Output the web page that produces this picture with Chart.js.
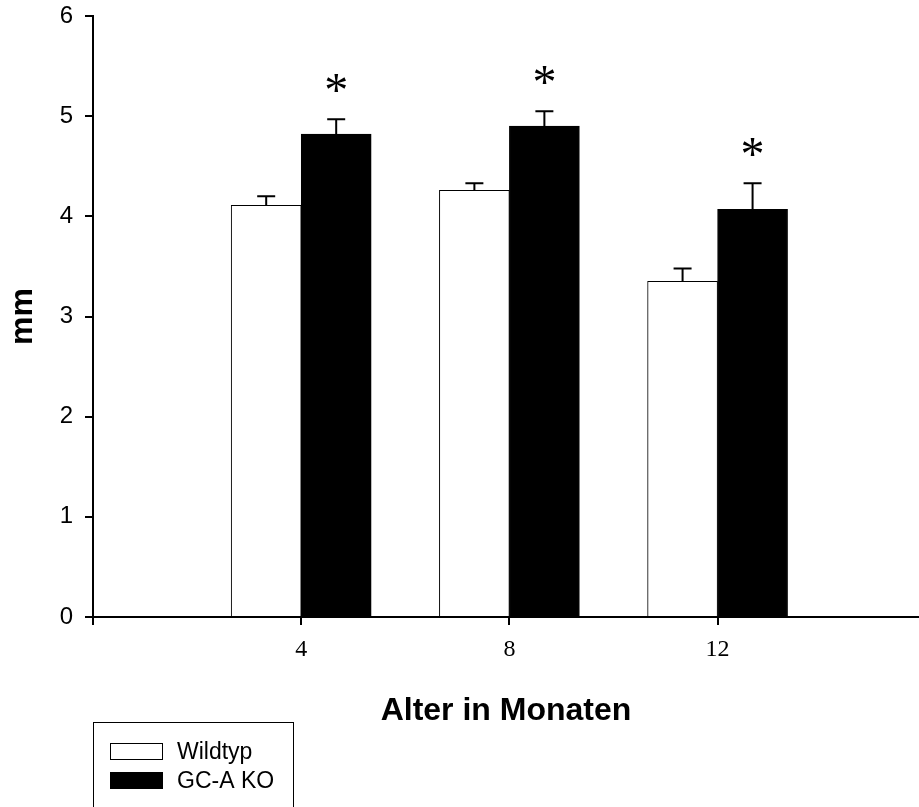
<!DOCTYPE html>
<html>
<head>
<meta charset="utf-8">
<script src="https://cdn.jsdelivr.net/npm/chart.js@4"></script>
<style>
  body { margin: 0; background: #fff; overflow: hidden; }
  #wrap { width: 919px; height: 807px; }
</style>
</head>
<body>
<div id="wrap"><canvas id="myChart" width="919" height="807"></canvas></div>
<script>
// Alter in Monaten
const monate = [4, 8, 12];
const wildtyp = [4.11, 4.26, 3.35];
const wildtypErr = [0.09, 0.07, 0.13];
const gcaKo = [4.82, 4.90, 4.07];
const gcaKoErr = [0.15, 0.15, 0.26];
const signifikant = [true, true, true];
const yTicks = [0, 1, 2, 3, 4, 5, 6];

// error bars (only upward), asterisks, axis titles and the legend box
const extras = {
  id: "extras",
  afterDatasetsDraw(chart) {
    const ctx = chart.ctx;
    const y = chart.scales.y;
    const errs = [wildtypErr, gcaKoErr];
    ctx.save();
    ctx.strokeStyle = "#000";
    ctx.lineWidth = 2;
    chart.data.datasets.forEach((ds, d) => {
      const meta = chart.getDatasetMeta(d);
      meta.data.forEach((bar, i) => {
        const top = y.getPixelForValue(ds.data[i].y + errs[d][i]);
        ctx.beginPath();
        ctx.moveTo(bar.x, bar.y);
        ctx.lineTo(bar.x, top);
        ctx.moveTo(bar.x - 9, top);
        ctx.lineTo(bar.x + 9, top);
        ctx.stroke();
        if (d == 1 && signifikant[i]) {
          ctx.fillStyle = "#000";
          ctx.font = "48px 'Liberation Serif'";
          ctx.textAlign = "center";
          ctx.textBaseline = "alphabetic";
          const m = ctx.measureText("*");
          // center the glyph 36px above the error cap
          const base = top - 36 + (m.actualBoundingBoxAscent - m.actualBoundingBoxDescent) / 2;
          ctx.fillText("*", bar.x, base);
        }
      });
    });
    ctx.restore();
  },
  afterDraw(chart) {
    const ctx = chart.ctx;
    const area = chart.chartArea;
    ctx.save();
    ctx.fillStyle = "#000";
    ctx.font = "bold 32px 'Liberation Sans'";
    ctx.textAlign = "center";
    ctx.textBaseline = "alphabetic";
    ctx.fillText("Alter in Monaten", (area.left + area.right) / 2, 720);
    ctx.translate(32, (area.top + area.bottom) / 2);
    ctx.rotate(-Math.PI / 2);
    ctx.fillText("mm", 0, 0);
    ctx.restore();

    // legend
    ctx.save();
    ctx.strokeStyle = "#000";
    ctx.lineWidth = 1;
    ctx.strokeRect(93.5, 722.5, 200, 120);
    chart.data.datasets.forEach((ds, d) => {
      const top = 743 + d * 29;
      ctx.fillStyle = ds.backgroundColor;
      ctx.fillRect(110, top, 53, 17);
      ctx.strokeRect(110.5, top + 0.5, 52, 16);
      ctx.fillStyle = "#000";
      ctx.font = "23px 'Liberation Sans'";
      ctx.textAlign = "left";
      ctx.textBaseline = "middle";
      ctx.fillText(ds.label, 177, top + 10);
    });
    ctx.restore();
  }
};

new Chart("myChart", {
  type: "bar",
  data: {
    datasets: [
      {
        label: "Wildtyp",
        data: monate.map((m, i) => ({ x: m, y: wildtyp[i] })),
        backgroundColor: "#fff",
        borderColor: "#000",
        borderWidth: 1,
        borderSkipped: "bottom",
        barThickness: 70,
      },
      {
        label: "GC-A KO",
        data: monate.map((m, i) => ({ x: m, y: gcaKo[i] })),
        backgroundColor: "#000",
        borderColor: "#000",
        borderWidth: 1,
        borderSkipped: "bottom",
        barThickness: 70,
      },
    ],
  },
  options: {
    responsive: false,
    animation: false,
    layout: { padding: { top: 16, right: 0, left: 0, bottom: 0 } },
    plugins: {
      legend: { display: false },
      tooltip: { enabled: false },
    },
    scales: {
      x: {
        type: "linear",
        min: 0,
        max: 15.87,
        offset: false,
        afterBuildTicks: (s) => { s.ticks = [0].concat(monate).map((v) => ({ value: v })); },
        afterFit: (s) => { s.height = 190; s.paddingLeft = 0; s.paddingRight = 0; },
        grid: { offset: false, drawOnChartArea: false, tickLength: 8, color: "#000", lineWidth: 2 },
        border: { color: "#000", width: 2 },
        ticks: {
          padding: 10,
          color: "#000",
          font: { family: "'Liberation Serif'", size: 24 },
          callback: (v) => (v == 0 ? "" : v),
        },
      },
      y: {
        min: 0,
        max: 6,
        afterBuildTicks: (s) => { s.ticks = yTicks.map((v) => ({ value: v })); },
        afterFit: (s) => { s.width = 93; s.paddingTop = 0; s.paddingBottom = 0; },
        grid: { drawOnChartArea: false, tickLength: 8, color: "#000", lineWidth: 2 },
        border: { color: "#000", width: 2 },
        ticks: {
          padding: 12,
          color: "#000",
          font: { family: "'Liberation Sans'", size: 24 },
        },
      },
    },
  },
  plugins: [extras],
});
</script>
</body>
</html>
